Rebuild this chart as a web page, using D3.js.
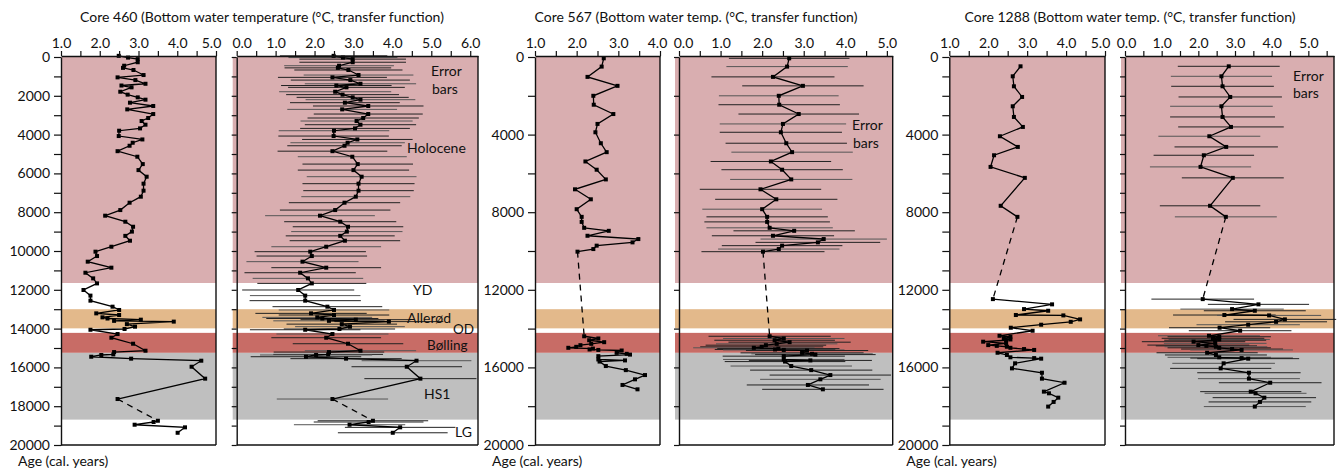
<!DOCTYPE html>
<html>
<head>
<meta charset="utf-8">
<script src="https://cdn.jsdelivr.net/npm/d3@7"></script>
<style>
body { margin: 0; background: #fff; }
svg text { font-family: Lato, "Noto Sans", sans-serif; fill: #111; }
</style>
</head>
<body>
<svg id="chart" width="1340" height="471"></svg>
<script>
// ---- data (ages in cal. years BP, temperatures in degC) ----
const ages460 = [-60, 30, 110, 270, 450, 560, 670, 930, 1050, 1190, 1380, 1470, 1565, 1790, 1940, 2080, 2200, 2355, 2525, 2700,
    2940, 3145, 3300, 3490, 3680, 3800, 4075, 4250, 4420, 4575, 4855, 5140, 5520, 5830, 6170, 6530, 6890, 7200, 7510, 7890,
    8180, 8490, 8750, 9000, 9220, 9470, 9780, 10035, 10260, 10550, 10860, 11120, 11410, 11670, 12010, 12300, 12560, 12870, 13040, 13215,
    13300, 13420, 13480, 13540, 13600, 13640, 13770, 13900, 14020, 14060, 14280, 14470, 14780, 15140, 15210, 15330, 15360, 15450, 15550, 15655,
    15965, 16580, 17630, 18750, 18815, 18955, 19090, 19370];
const temps460 = [2.49, 2.73, 2.98, 2.98, 2.63, 2.60, 2.87, 3.13, 2.46, 2.92, 3.18, 2.56, 2.82, 2.53, 2.72, 2.98, 3.18, 2.78, 3.38, 2.71,
    3.38, 3.25, 3.08, 3.18, 3.04, 2.50, 2.49, 3.10, 2.85, 2.77, 2.46, 2.97, 3.11, 3.00, 3.21, 3.13, 3.13, 3.06, 2.77, 2.53,
    2.14, 2.66, 2.86, 2.83, 2.66, 2.78, 2.30, 1.89, 1.93, 1.69, 2.30, 1.63, 1.83, 1.93, 1.58, 1.76, 1.76, 2.33, 2.50, 1.91,
    2.50, 2.07, 2.20, 3.06, 2.37, 3.91, 2.70, 2.91, 2.64, 1.76, 2.46, 2.30, 2.86, 3.18, 2.37, 2.35, 2.04, 1.78, 2.81, 4.62,
    4.37, 4.72, 2.46, 3.50, 3.39, 2.90, 4.20, 4.01];
const err460 = [1.38, 1.40, 1.37, 1.37, 1.41, 1.37, 1.39, 1.41, 1.40, 1.53, 1.43, 1.42, 1.50, 1.44, 1.45, 1.44, 1.41, 1.41, 1.42, 1.41,
    1.40, 1.43, 1.44, 1.43, 1.41, 1.42, 1.42, 1.42, 1.47, 1.47, 1.41, 1.40, 1.42, 1.43, 1.41, 1.44, 1.42, 1.40, 1.43, 1.42,
    1.41, 1.44, 1.42, 1.43, 1.40, 1.42, 1.41, 1.43, 1.42, 1.44, 1.41, 1.43, 1.42, 1.40, 1.44, 1.42, 1.43, 1.41, 1.42, 1.43,
    1.42, 1.41, 1.44, 1.42, 1.43, 1.40, 1.42, 1.41, 1.43, 1.42, 1.44, 1.41, 1.42, 1.43, 1.42, 1.41, 1.44, 1.42, 1.43, 1.41,
    1.42, 1.44, 1.43, 1.42, 1.41, 1.43, 1.42, 1.41];
const dash460 = 17630;

const ages567 = [68, 495, 1025, 1487, 2000, 2460, 2940, 3450, 3880, 4445, 4905, 5385, 5810, 6310, 6820, 7335, 7845, 8240, 8500, 8805,
    8960, 9215, 9385, 9555, 9725, 9900, 10035, 14395, 14510, 14600, 14700, 14785, 14855, 14940, 14990, 15030, 15075, 15100, 15130, 15250,
    15300, 15340, 15420, 15590, 15640, 15700, 15930, 16140, 16395, 16615, 16905, 17130];
const temps567 = [2.65, 2.60, 2.26, 2.98, 2.40, 2.41, 2.88, 2.50, 2.45, 2.58, 2.72, 2.21, 2.48, 2.70, 1.96, 2.34, 2.00, 2.12, 2.12, 2.18,
    2.77, 2.26, 3.48, 3.34, 2.48, 2.40, 2.02, 2.18, 2.52, 2.30, 2.66, 2.35, 2.09, 1.99, 1.80, 2.39, 2.31, 2.52, 3.08, 2.96,
    3.20, 3.28, 2.52, 2.52, 3.16, 2.55, 2.70, 3.18, 3.64, 3.40, 3.10, 3.46];
const err567 = [1.45, 1.46, 1.48, 1.46, 1.44, 1.46, 1.45, 1.52, 1.47, 1.46, 1.46, 1.45, 1.46, 1.47, 1.46, 1.47, 1.44, 1.46, 1.51, 1.52,
    1.46, 1.47, 1.52, 1.50, 1.45, 1.46, 1.48, 1.47, 1.46, 1.45, 1.47, 1.46, 1.45, 1.48, 1.46, 1.47, 1.45, 1.46, 1.47, 1.48,
    1.46, 1.45, 1.47, 1.46, 1.48, 1.45, 1.46, 1.47, 1.46, 1.45, 1.47, 1.46];
const dash567 = 10035;

const ages1288 = [480, 995, 1510, 2060, 2540, 3090, 3605, 4085, 4635, 5065, 5665, 6230, 7670, 8240, 12480, 12750, 12995, 13080, 13300, 13320,
    13525, 13650, 13800, 13955, 14110, 14370, 14420, 14500, 14560, 14600, 14675, 14760, 14850, 14890, 14935, 14990, 15055, 15100, 15245, 15360,
    15480, 15520, 15550, 15790, 16050, 16275, 16580, 16790, 17250, 17335, 17560, 17780, 18020];
const temps1288 = [2.83, 2.63, 2.66, 2.87, 2.63, 2.66, 2.89, 2.30, 2.76, 2.15, 2.06, 2.94, 2.32, 2.75, 2.12, 3.64, 2.92, 3.54, 2.71, 3.93,
    4.36, 4.12, 3.36, 2.58, 3.14, 2.29, 2.57, 2.40, 2.57, 2.46, 1.87, 2.46, 2.00, 2.22, 2.48, 2.57, 2.92, 3.18, 2.24, 2.48,
    2.57, 3.18, 3.36, 2.69, 2.61, 3.38, 3.38, 3.96, 3.43, 3.56, 3.80, 3.68, 3.54];
const err1288 = [1.39, 1.38, 1.40, 1.41, 1.40, 1.43, 1.44, 1.39, 1.41, 1.37, 1.38, 1.39, 1.37, 1.39, 1.40, 1.38, 1.41, 1.39, 1.40, 1.42,
    1.40, 1.39, 1.41, 1.38, 1.40, 1.39, 1.41, 1.40, 1.38, 1.39, 1.41, 1.40, 1.39, 1.38, 1.40, 1.41, 1.39, 1.40, 1.38, 1.39,
    1.41, 1.40, 1.39, 1.40, 1.38, 1.41, 1.39, 1.40, 1.38, 1.39, 1.41, 1.40, 1.39];
const dash1288 = 8240;

// climate intervals
const bandNames = ["Holocene", "YD", "Allerød", "OD", "Bølling", "HS1", "LG"];
const bandTop = [0, 11650, 13000, 14000, 14220, 15250, 18700];
const bandBottom = [11650, 13000, 14000, 14220, 15250, 18700, 20000];
const bandColors = ["#d9aeb0", "#ffffff", "#e3b98b", "#ffffff", "#c86c66", "#bfbfbf", "#ffffff"];

const titles = ["Core 460 (Bottom water temperature (°C, transfer function)",
    "Core 567 (Bottom water temp. (°C, transfer function)",
    "Core 1288 (Bottom water temp. (°C, transfer function)"];

// ---- drawing ----
const svg = d3.select("#chart");
const y = d3.scaleLinear().domain([0, 20000]).range([57, 445]);

const cores = {
    "460": { ages: ages460, temps: temps460, err: err460, dash: dash460 },
    "567": { ages: ages567, temps: temps567, err: err567, dash: dash567 },
    "1288": { ages: ages1288, temps: temps1288, err: err1288, dash: dash1288 }
};

// firstDx / lastDx nudge the end tick labels so neighbouring panels don't collide
const panels = [
    { core: "460", x0: 61, x1: 216, dom: [1, 5], xMax: 5, yStep: 1000, yLab: 2000, labels: true, bars: false, pad: 0, firstDx: 0, lastDx: -5 },
    { core: "460", x0: 236.7, x1: 478, dom: [0, 6.2], xMax: 6, yStep: 1000, yLab: 0, labels: false, bars: true, pad: 4, firstDx: 5, lastDx: 0 },
    { core: "567", x0: 535, x1: 660, dom: [1, 4], xMax: 4, yStep: 2000, yLab: 4000, labels: true, bars: false, pad: 0, firstDx: 0, lastDx: -3 },
    { core: "567", x0: 679, x1: 892.7, dom: [0, 5.14], xMax: 5, yStep: 2000, yLab: 0, labels: false, bars: true, pad: 4, firstDx: 4, lastDx: 0 },
    { core: "1288", x0: 949.3, x1: 1105, dom: [1, 5], xMax: 5, yStep: 1000, yLab: 4000, labels: true, bars: false, pad: 0, firstDx: 0, lastDx: -5 },
    { core: "1288", x0: 1125, x1: 1334, dom: [0, 5.7], xMax: 5.5, yStep: 1000, yLab: 0, labels: false, bars: true, pad: 4, firstDx: 1, lastDx: 0 }
];

const bands = bandNames.map((n, i) => ({ name: n, top: bandTop[i], bottom: bandBottom[i], color: bandColors[i] }));

function styleAxis(g) {
    g.attr("font-family", null).attr("font-size", null);
    g.selectAll("text").style("font-size", "14px").attr("fill", "#111");
    g.selectAll("line").attr("stroke", "#111").attr("stroke-width", 1.2);
    g.select(".domain").attr("stroke", "#111").attr("stroke-width", 1.4);
}

function drawPanel(p) {
    const c = cores[p.core];
    const x = d3.scaleLinear().domain(p.dom).range([p.x0, p.x1]);
    const g = svg.append("g");
    const pts = c.ages.map((a, i) => ({ age: a, t: c.temps[i], e: c.err[i] }));

    g.selectAll("rect.band").data(bands).join("rect")
        .attr("x", p.x0 - p.pad)
        .attr("width", p.x1 - p.x0 + p.pad)
        .attr("y", d => y(d.top))
        .attr("height", d => y(d.bottom) - y(d.top))
        .attr("fill", d => d.color);

    if (p.bars) {
        g.selectAll("line.err").data(pts).join("line")
            .attr("x1", d => x(d.t - d.e))
            .attr("x2", d => x(d.t + d.e))
            .attr("y1", d => y(d.age))
            .attr("y2", d => y(d.age))
            .attr("stroke", (d, i) => i % 3 === 1 ? "#555" : "#222")
            .attr("stroke-width", 1);
    }

    const line = d3.line().x(d => x(d.t)).y(d => y(d.age));
    const k = pts.findIndex(d => d.age === c.dash);
    g.append("path").datum(pts.slice(0, k + 1)).attr("d", line)
        .attr("fill", "none").attr("stroke", "#000").attr("stroke-width", 1.3);
    g.append("path").datum(pts.slice(k + 1)).attr("d", line)
        .attr("fill", "none").attr("stroke", "#000").attr("stroke-width", 1.3);
    g.append("path").datum(pts.slice(k, k + 2)).attr("d", line)
        .attr("fill", "none").attr("stroke", "#000").attr("stroke-width", 1.3)
        .attr("stroke-dasharray", "6,5");

    g.selectAll("rect.pt").data(pts).join("rect")
        .attr("x", d => x(d.t) - 2)
        .attr("y", d => y(d.age) - 2)
        .attr("width", 4)
        .attr("height", 4)
        .attr("fill", "#000");

    // frame
    g.append("line").attr("x1", p.x1).attr("x2", p.x1).attr("y1", 56).attr("y2", y(20000))
        .attr("stroke", "#111").attr("stroke-width", 1.4);
    g.append("line").attr("x1", p.x0).attr("x2", p.x1).attr("y1", y(20000)).attr("y2", y(20000))
        .attr("stroke", "#111").attr("stroke-width", 1.4);

    const xt = d3.range(p.dom[0], p.xMax + 0.01, 0.5);
    const top = g.append("g")
        .attr("transform", "translate(0,56)")
        .call(d3.axisTop(x).tickValues(xt).tickSize(5).tickSizeOuter(0).tickPadding(3)
            .tickFormat(v => Number.isInteger(v) ? d3.format(".1f")(v) : ""))
        .call(styleAxis);
    top.selectAll(".tick text")
        .attr("dx", v => v === p.dom[0] ? p.firstDx : (v === Math.floor(p.xMax) ? p.lastDx : 0));

    const yt = d3.range(0, 20001, p.yStep);
    g.append("g")
        .attr("transform", `translate(${p.x0},0)`)
        .call(d3.axisLeft(y).tickValues(yt).tickSize(p.labels ? 7 : 5).tickSizeOuter(0).tickPadding(4)
            .tickFormat(v => p.labels && v % p.yLab === 0 ? String(v) : ""))
        .call(styleAxis);

    if (p.labels) {
        svg.append("text").attr("x", p.x0 - 43).attr("y", 466).style("font-size", "14px")
            .text("Age (cal. years)");
    }
}

panels.forEach(drawPanel);

// titles
[262, 696, 1130].forEach((cx, i) => {
    svg.append("text").attr("x", cx).attr("y", 22).attr("text-anchor", "middle")
        .style("font-size", "14px").text(titles[i]);
});

// annotations
const notes = [
    ["Error", 431, 76, 14], ["bars", 432, 94, 14], ["Holocene", 407, 153, 14], ["YD", 413, 295, 14], ["Allerød", 407, 323, 14],
    ["OD", 453, 334, 13.5], ["Bølling", 427, 350, 13.5], ["HS1", 424, 399, 14], ["LG", 455, 437, 14],
    ["Error", 852, 130, 14], ["bars", 853, 148, 14],
    ["Error", 1293, 81, 14], ["bars", 1293, 98, 14]
];
svg.selectAll("text.note").data(notes).join("text")
    .attr("x", d => d[1]).attr("y", d => d[2])
    .style("font-size", d => d[3] + "px")
    .text(d => d[0]);
</script>
</body>
</html>
